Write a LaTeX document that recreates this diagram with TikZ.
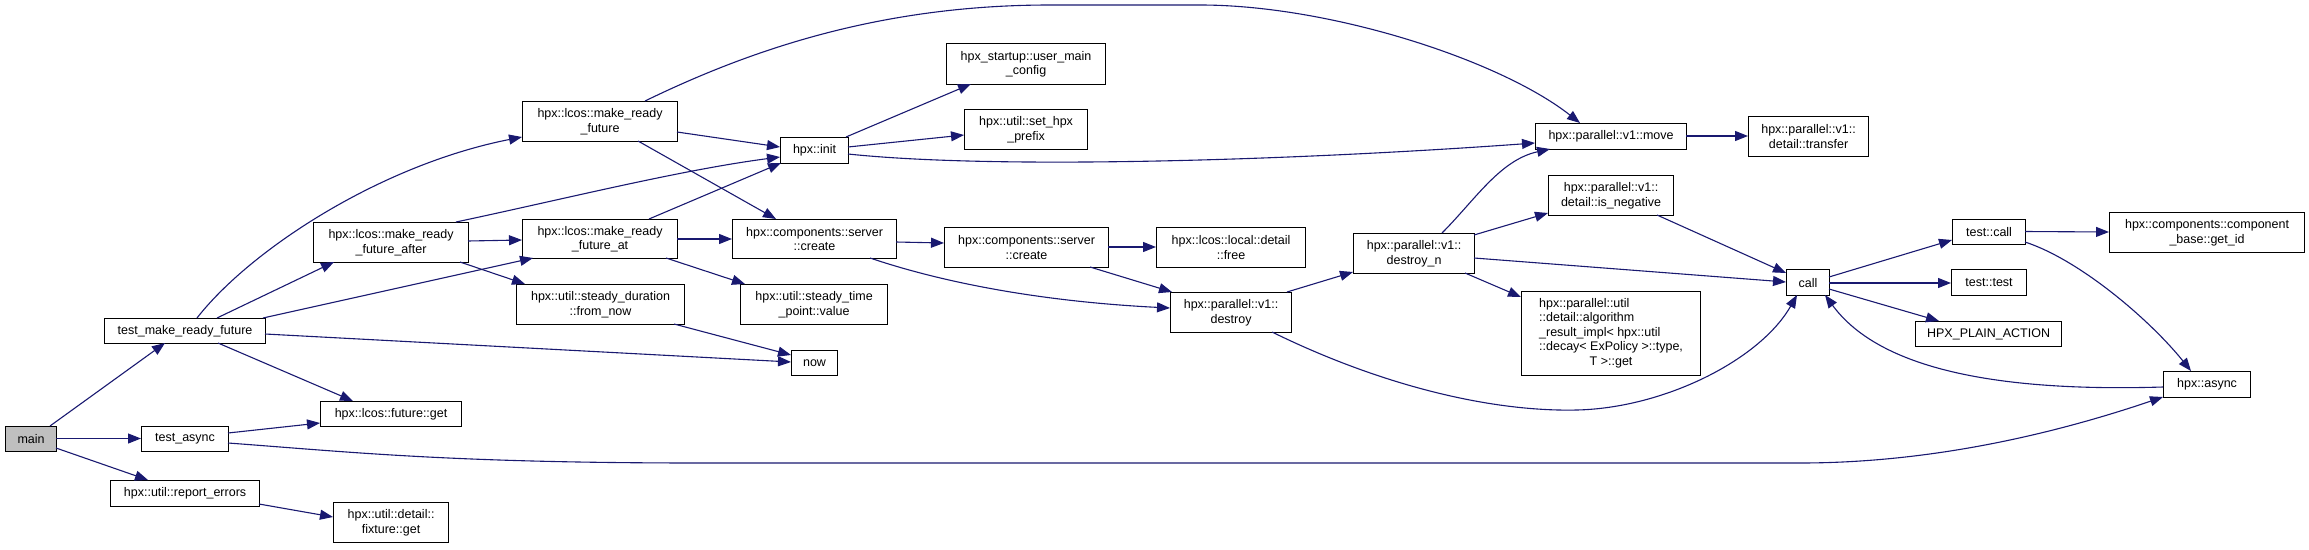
\documentclass[tikz,border=0pt]{standalone}
\usepackage{fontspec}
\setmainfont{Liberation Sans}
\usetikzlibrary{arrows.meta,calc}
\definecolor{edgecol}{HTML}{191970}
\definecolor{maingray}{HTML}{BFBFBF}
\tikzset{
  fn/.style={draw=black, line width=1.1pt, fill=white, anchor=north west, inner sep=2pt,
    align=center, font=\fontsize{12.5}{14.5}\selectfont, text=black},
  call/.style={draw=edgecol, line width=1.1pt, -{Triangle[length=13pt,width=10pt]}},
}
\begin{document}
\begin{tikzpicture}[x=1pt,y=-1pt]
\useasboundingbox (0,0) rectangle (2309,549);
% nodes
\node[fn, fill=maingray, minimum width=51pt, minimum height=25pt] (main) at (5,426) {main};
\node[fn, minimum width=161pt, minimum height=25pt] (tmrf) at (104,318) {test\_make\_ready\_future};
\node[fn, minimum width=141pt, minimum height=25pt] (fget) at (320,401) {hpx::lcos::future::get};
\node[fn, minimum width=87pt, minimum height=25pt] (tasync) at (141,426) {test\_async};
\node[fn, minimum width=149pt, minimum height=26pt] (reperr) at (110,480) {hpx::util::report\_errors};
\node[fn, minimum width=115pt, minimum height=40pt] (fixture) at (333,502) {hpx::util::detail::\\fixture::get};
\node[fn, minimum width=155pt, minimum height=40pt] (mrf) at (522,101) {hpx::lcos::make\_ready\\\_future};
\node[fn, minimum width=155pt, minimum height=40pt] (after) at (313,222) {hpx::lcos::make\_ready\\\_future\_after};
\node[fn, minimum width=155pt, minimum height=39pt] (at) at (522,219) {hpx::lcos::make\_ready\\\_future\_at};
\node[fn, minimum width=168pt, minimum height=40pt] (fromnow) at (516,284) {hpx::util::steady\_duration\\::from\_now};
\node[fn, minimum width=147pt, minimum height=40pt] (stp) at (740,284) {hpx::util::steady\_time\\\_point::value};
\node[fn, minimum width=46pt, minimum height=25pt] (now) at (791,350) {now};
\node[fn, minimum width=68pt, minimum height=26pt] (init) at (780,137) {hpx::init};
\node[fn, minimum width=159pt, minimum height=41pt] (umc) at (946,43) {hpx\_startup::user\_main\\\_config};
\node[fn, minimum width=123pt, minimum height=40pt] (shp) at (964,109) {hpx::util::set\_hpx\\\_prefix};
\node[fn, minimum width=164pt, minimum height=39pt] (sca) at (732,219) {hpx::components::server\\::create};
\node[fn, minimum width=164pt, minimum height=40pt] (scb) at (944,227) {hpx::components::server\\::create};
\node[fn, minimum width=149pt, minimum height=40pt] (free) at (1156,227) {hpx::lcos::local::detail\\::free};
\node[fn, minimum width=121pt, minimum height=40pt] (destroy) at (1170,292) {hpx::parallel::v1::\\destroy};
\node[fn, minimum width=121pt, minimum height=40pt] (destroyn) at (1353,233) {hpx::parallel::v1::\\destroy\_n};
\node[fn, minimum width=151pt, minimum height=26pt] (move) at (1535,123) {hpx::parallel::v1::move};
\node[fn, minimum width=125pt, minimum height=40pt] (isneg) at (1548,175) {hpx::parallel::v1::\\detail::is\_negative};
\node[fn, minimum width=179pt, minimum height=84pt] (algo) at (1521,291) {\begin{tabular}{@{}l@{}}hpx::parallel::util\\::detail::algorithm\\\_result\_impl< hpx::util\\::decay< ExPolicy >::type,\\\multicolumn{1}{@{}c@{}}{T >::get}\end{tabular}};
\node[fn, minimum width=120pt, minimum height=40pt] (transfer) at (1748,116) {hpx::parallel::v1::\\detail::transfer};
\node[fn, minimum width=43pt, minimum height=26pt] (callf) at (1786,269) {call};
\node[fn, minimum width=73pt, minimum height=25pt] (tcall) at (1952,219) {test::call};
\node[fn, minimum width=195pt, minimum height=40pt] (getid) at (2109,212) {hpx::components::component\\\_base::get\_id};
\node[fn, minimum width=75pt, minimum height=26pt] (ttest) at (1951,269) {test::test};
\node[fn, minimum width=146pt, minimum height=25pt] (hpa) at (1915,321) {HPX\_PLAIN\_ACTION};
\node[fn, minimum width=87pt, minimum height=26pt] (async) at (2163,371) {hpx::async};
% edges
\draw[call] ($(main.north west)+(45,0)$) -- ($(tmrf.north west)+(61,25)$);
\draw[call] ($(main.north west)+(51,12.5)$) -- ($(tasync.north west)+(0,12.5)$);
\draw[call] ($(main.north west)+(51,22)$) -- ($(reperr.north west)+(38,0)$);
\draw[call] ($(tmrf.north west)+(93,0)$) .. controls (250,250) and (380,165) .. ($(mrf.north west)+(0,36)$);
\draw[call] ($(tmrf.north west)+(113,0)$) -- ($(after.north west)+(21,40)$);
\draw[call] ($(tmrf.north west)+(159,0)$) -- ($(at.north west)+(11,39)$);
\draw[call] ($(tmrf.north west)+(161,16)$) -- ($(now.north west)+(0,12)$);
\draw[call] ($(tmrf.north west)+(114,25)$) -- ($(fget.north west)+(33,0)$);
\draw[call] ($(tasync.north west)+(87,7)$) -- ($(fget.north west)+(0,22)$);
\draw[call] ($(tasync.north west)+(87,17)$) .. controls (350,452) and (450,463) .. (700,463) -- (1800,463) .. controls (1950,463) and (2080,425) .. ($(async.north west)+(0,26)$);
\draw[call] ($(reperr.north west)+(149,24)$) -- ($(fixture.north west)+(0,15)$);
\draw[call] ($(mrf.north west)+(155,31)$) -- ($(init.north west)+(0,10)$);
\draw[call] ($(mrf.north west)+(116,40)$) -- ($(sca.north west)+(44,0)$);
\draw[call] ($(mrf.north west)+(123,0)$) .. controls (750,50) and (880,5) .. (1050,5) -- (1200,5) .. controls (1330,5) and (1500,60) .. ($(move.north west)+(45,0)$);
\draw[call] ($(after.north west)+(155,19)$) -- ($(at.north west)+(0,21)$);
\draw[call] ($(after.north west)+(143,0)$) .. controls (560,200) and (680,170) .. ($(init.north west)+(0,20)$);
\draw[call] ($(after.north west)+(147,40)$) -- ($(fromnow.north west)+(9,0)$);
\draw[call] ($(at.north west)+(127,0)$) -- ($(init.north west)+(1,26)$);
\draw[call] ($(at.north west)+(155,20)$) -- ($(sca.north west)+(0,20)$);
\draw[call] ($(at.north west)+(144,39)$) -- ($(stp.north west)+(5,0)$);
\draw[call] ($(fromnow.north west)+(158,40)$) -- ($(now.north west)+(0,5)$);
\draw[call] ($(init.north west)+(66,0)$) -- ($(umc.north west)+(25,41)$);
\draw[call] ($(init.north west)+(68,10)$) -- ($(shp.north west)+(0,26)$);
\draw[call] ($(init.north west)+(68,17)$) .. controls (1000,170) and (1300,160) .. ($(move.north west)+(0,20)$);
\draw[call] ($(sca.north west)+(164,23)$) -- ($(scb.north west)+(0,16)$);
\draw[call] ($(sca.north west)+(138,39)$) .. controls (950,285) and (1050,302) .. ($(destroy.north west)+(0,16)$);
\draw[call] ($(scb.north west)+(164,20)$) -- ($(free.north west)+(0,20)$);
\draw[call] ($(scb.north west)+(146,40)$) -- ($(destroy.north west)+(2,0)$);
\draw[call] ($(destroy.north west)+(117,0)$) -- ($(destroyn.north west)+(0,39)$);
\draw[call] ($(destroy.north west)+(102,40)$) .. controls (1380,385) and (1490,412) .. (1577,410) .. controls (1664,408) and (1760,360) .. ($(callf.north west)+(11,26)$);
\draw[call] ($(destroyn.north west)+(89,0)$) .. controls (1475,200) and (1500,160) .. ($(move.north west)+(15,26)$);
\draw[call] ($(destroyn.north west)+(121,2)$) -- ($(isneg.north west)+(0,38)$);
\draw[call] ($(destroyn.north west)+(121,25)$) -- ($(callf.north west)+(0,13)$);
\draw[call] ($(destroyn.north west)+(112,40)$) -- ($(algo.north west)+(0,6)$);
\draw[call] ($(isneg.north west)+(109,40)$) -- ($(callf.north west)+(0,4)$);
\draw[call] ($(move.north west)+(151,13)$) -- ($(transfer.north west)+(0,20)$);
\draw[call] ($(callf.north west)+(43,8)$) -- ($(tcall.north west)+(0,21)$);
\draw[call] ($(callf.north west)+(43,14)$) -- ($(ttest.north west)+(0,14)$);
\draw[call] ($(callf.north west)+(43,20)$) -- ($(hpa.north west)+(24,0)$);
\draw[call] ($(tcall.north west)+(73,12.5)$) -- ($(getid.north west)+(0,20)$);
\draw[call] ($(tcall.north west)+(73,23)$) .. controls (2080,260) and (2150,320) .. ($(async.north west)+(28,0)$);
\draw[call] ($(async.north west)+(0,16)$) .. controls (2000,392) and (1880,370) .. ($(callf.north west)+(39,26)$);
\end{tikzpicture}
\end{document}
